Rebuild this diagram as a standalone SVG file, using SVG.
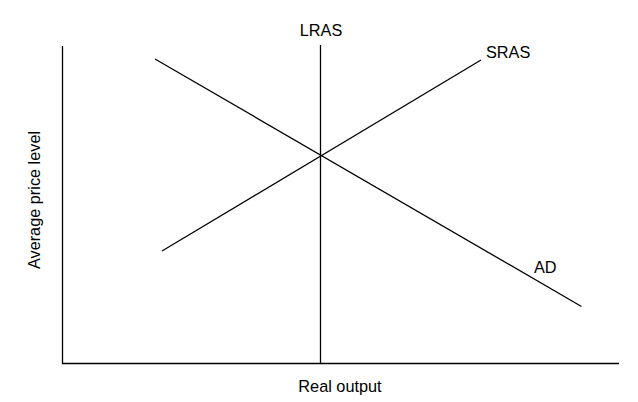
<svg xmlns="http://www.w3.org/2000/svg" width="638" height="402" viewBox="0 0 638 402">
<style>
.ln{stroke:#000;stroke-width:1.3;fill:none}
.t{font-family:"Liberation Sans",Arial,sans-serif;font-size:16.3px;fill:#000}
</style>
<rect width="638" height="402" fill="#fff"/>
<g id="axes">
<path class="ln" d="M62.5,46 V363.5 H619"/>
<text class="t" x="340" y="392" text-anchor="middle">Real output</text>
<text class="t" transform="translate(40,200) rotate(-90)" text-anchor="middle">Average price level</text>
</g>
<g id="connectors">
<line id="lras" class="ln" x1="320.5" y1="45" x2="320.5" y2="363.5"/>
<line id="sras" class="ln" x1="162" y1="251" x2="481" y2="60"/>
<line id="ad" class="ln" x1="155" y1="59" x2="581.5" y2="306.5"/>
</g>
<g id="label-lras"><text class="t" x="321" y="36" text-anchor="middle">LRAS</text></g>
<g id="label-sras"><text class="t" x="486" y="58">SRAS</text></g>
<g id="label-ad"><text class="t" x="534" y="273">AD</text></g>
</svg>
